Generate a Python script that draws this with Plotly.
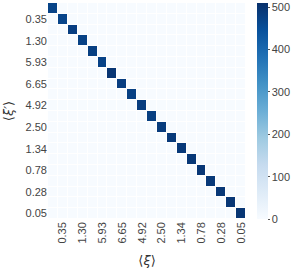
import plotly.graph_objects as go

# category means (every other label is shown on the axes)
labels = ["0.10", "0.35", "0.70", "1.30", "3.20", "5.93", "6.80", "6.65", "5.80", "4.92",
          "3.60", "2.50", "1.80", "1.34", "1.00", "0.78", "0.50", "0.28", "0.15", "0.05"]
diag_counts = [472, 470, 482, 476, 480, 474, 500, 482, 478, 484,
               480, 486, 490, 492, 494, 496, 492, 494, 496, 498]
shown_idx = list(range(1, 20, 2))

n = len(labels)
idx = list(range(n))
z = [[diag_counts[i] if i == j else 0 for j in idx] for i in idx]

fig = go.Figure(go.Heatmap(
    z=z, x=idx, y=idx,
    colorscale="Blues", zmin=0, zmax=510,
    xgap=1, ygap=1,
    colorbar=dict(
        thickness=11, len=1.0, lenmode="fraction", y=0.5, yanchor="middle",
        x=1.055, xanchor="left", outlinewidth=0, xpad=0, ypad=0,
        tickvals=[0, 100, 200, 300, 400, 500], ticks="outside", ticklen=2,
        tickcolor="#555", tickfont=dict(family="Liberation Sans, Arial", size=11, color="#444"),
    ),
))

tick_text = [labels[i] for i in shown_idx]
fig.update_xaxes(
    tickvals=shown_idx, ticktext=tick_text, tickangle=-90, automargin=False,
    showgrid=False, zeroline=False, range=[-0.5, n - 0.5],
    tickfont=dict(family="Liberation Sans, Arial", size=11, color="#444"),
    title=dict(text="⟨<i>ξ</i>⟩", font=dict(family="DejaVu Sans", size=13, color="#333"), standoff=13),
)
fig.update_yaxes(
    tickvals=shown_idx, ticktext=tick_text, automargin=False,
    showgrid=False, zeroline=False, range=[n - 0.5, -0.5],
    tickfont=dict(family="Liberation Sans, Arial", size=11, color="#444"),
    title=dict(text="⟨<i>ξ′</i>⟩", font=dict(family="DejaVu Sans", size=13, color="#333"), standoff=9),
)
fig.update_layout(
    width=291, height=268,
    margin=dict(l=48, r=45, t=3, b=49, autoexpand=False),
    paper_bgcolor="white", plot_bgcolor="white",
)
fig.write_html("out.html", config={"displayModeBar": False},
               post_script="document.body.style.margin='0';")
